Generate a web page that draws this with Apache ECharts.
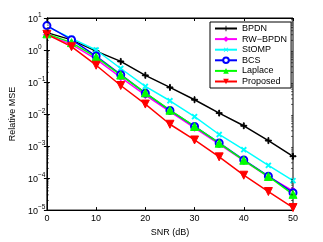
<!DOCTYPE html>
<html><head><meta charset="utf-8">
<script src="https://cdn.jsdelivr.net/npm/echarts@6/dist/echarts.min.js"></script>
<style>html,body{margin:0;padding:0;background:#fff}#c{width:323px;height:242px}</style>
</head><body><div id="c"></div>
<script>
var snr = [0, 5, 10, 15, 20, 25, 30, 35, 40, 45, 50];
var bpdn = [3.5, 2.07, 0.92, 0.44, 0.162, 0.068, 0.028, 0.0107, 0.0043, 0.00148, 0.00048];
var rwbpdn = [3.0, 1.5, 0.52, 0.14, 0.039, 0.012, 0.0037, 0.00115, 0.00035, 0.00011, 0.00004];
var stomp = [5.5, 2.3, 1.0, 0.265, 0.073, 0.026, 0.0083, 0.0023, 0.00077, 0.00025, 0.000083];
var bcs = [5.8, 2.1, 0.65, 0.17, 0.045, 0.013, 0.0041, 0.00125, 0.00037, 0.000115, 0.000035];
var laplace = [3.2, 1.7, 0.6, 0.165, 0.046, 0.0132, 0.0041, 0.00123, 0.00036, 0.000112, 0.000031];
var proposed = [3.1, 1.27, 0.335, 0.078, 0.0205, 0.0048, 0.00155, 0.00046, 0.000123, 0.000038, 0.000012];
var names = ['BPDN', 'RW\u2212BPDN', 'StOMP', 'BCS', 'Laplace', 'Proposed'];
var xTicks = [0, 10, 20, 30, 40, 50];
var yDecades = [-5, -4, -3, -2, -1, 0, 1];

function pairs(arr){ return snr.map(function(x,i){ return [x, arr[i]]; }); }
var minorVals = [];
yDecades.forEach(function(d){ if (d < 1) for (var k = 2; k <= 9; k++) minorVals.push(k * Math.pow(10, d)); });

var FONT = 'Liberation Sans, Arial, Helvetica, sans-serif';
var plus = 'path://M-0.15,-1H0.15V-0.15H1V0.15H0.15V1H-0.15V0.15H-1V-0.15H-0.15Z';
var star = 'path://M-0.15,-1H0.15V-0.15H1V0.15H0.15V1H-0.15V0.15H-1V-0.15H-0.15Z';

function mk(name, data, color, symbol, size, extra){
  var s = {
    name: name, type: 'line', data: pairs(data), symbol: symbol, symbolSize: size,
    lineStyle: {color: color, width: 1.5}, itemStyle: {color: color, borderColor: color},
    emphasis: {disabled: true}, animation: false, z: 3
  };
  for (var k in extra) s[k] = extra[k];
  return s;
}

var series = [
  mk(names[0], bpdn, '#000000', plus, 6, {}),
  mk(names[1], rwbpdn, '#ff00ff', 'diamond', 7, {}),
  mk(names[2], stomp, '#00ffff', star, 6, {symbolRotate: 45}),
  mk(names[3], bcs, '#0000ff', 'emptyCircle', 7, {itemStyle: {color: '#0000ff', borderColor: '#0000ff', borderWidth: 1.5}}),
  mk(names[4], laplace, '#00ff00', 'triangle', 8, {}),
  mk(names[5], proposed, '#ff0000', 'triangle', 8, {symbolRotate: 180}),
  {
    type: 'custom', silent: true, animation: false, z: 5,
    data: minorVals.map(function(v){ return [0, v]; }),
    renderItem: function(params, api){
      var v = api.value(1);
      var pL = api.coord([0, v]);
      var pR = api.coord([50, v]);
      return {type: 'group', children: [
        {type: 'line', shape: {x1: pL[0], y1: pL[1], x2: pL[0] + 2, y2: pL[1]}, style: {stroke: '#000', lineWidth: 0.6}},
        {type: 'line', shape: {x1: pR[0], y1: pR[1], x2: pR[0] - 2, y2: pR[1]}, style: {stroke: '#000', lineWidth: 0.6}}
      ]};
    }
  }
];

var chart = echarts.init(document.getElementById('c'), null, {renderer: 'canvas'});
var yLabelRich = {
  b: {fontSize: 9, fontFamily: FONT, color: '#000', lineHeight: 12, verticalAlign: 'bottom'},
  e: {fontSize: 6.5, fontFamily: FONT, color: '#000', lineHeight: 12, verticalAlign: 'top', padding: [0, 0, 5, 0]}
};
chart.setOption({
  backgroundColor: '#fff',
  animation: false,
  textStyle: {fontFamily: FONT},
  grid: {left: 42, right: 30, top: 18, bottom: 27, show: true, borderColor: '#000', borderWidth: 1},
  legend: {
    data: names, orient: 'vertical', left: 210, top: 22,
    backgroundColor: '#fff', borderColor: '#000', borderWidth: 1,
    padding: [2, 4, 2, 4], itemWidth: 22, itemHeight: 7, itemGap: 1.6,
    textStyle: {fontSize: 9, fontFamily: FONT, color: '#000', padding: [0, 0, 0, 0]},
    selectedMode: false
  },
  xAxis: [{
    type: 'value', min: 0, max: 50, interval: 10, position: 'bottom',
    name: 'SNR (dB)', nameLocation: 'middle', nameGap: 16,
    nameTextStyle: {fontSize: 9, fontFamily: FONT, color: '#000'},
    axisLine: {show: true, lineStyle: {color: '#000', width: 1}},
    axisTick: {show: true, inside: true, length: 3, lineStyle: {color: '#000'}},
    axisLabel: {fontSize: 9, fontFamily: FONT, color: '#000', margin: 4},
    splitLine: {show: false}
  }, {
    type: 'value', min: 0, max: 50, interval: 10, position: 'top',
    axisLine: {show: true, lineStyle: {color: '#000', width: 1}},
    axisTick: {show: true, inside: true, length: 3, lineStyle: {color: '#000'}},
    axisLabel: {show: false}, splitLine: {show: false}
  }],
  yAxis: [{
    type: 'log', logBase: 10, min: 1e-5, max: 10, position: 'left',
    name: 'Relative MSE', nameLocation: 'middle', nameGap: 25, nameRotate: 90,
    nameTextStyle: {fontSize: 9, fontFamily: FONT, color: '#000'},
    axisLine: {show: true, lineStyle: {color: '#000', width: 1}},
    axisTick: {show: true, inside: true, length: 3, lineStyle: {color: '#000'}},
    axisLabel: {
      margin: 19, align: 'left',
      formatter: function(v){ var e = Math.round(Math.log10(v)); return '{b|10}{e|' + (e < 0 ? '\u2212' + (-e) : e) + '}'; },
      rich: yLabelRich
    },
    splitLine: {show: false}
  }, {
    type: 'log', logBase: 10, min: 1e-5, max: 10, position: 'right',
    axisLine: {show: true, lineStyle: {color: '#000', width: 1}},
    axisTick: {show: true, inside: true, length: 3, lineStyle: {color: '#000'}},
    axisLabel: {show: false}, splitLine: {show: false}
  }],
  series: series
});
</script></body></html>
